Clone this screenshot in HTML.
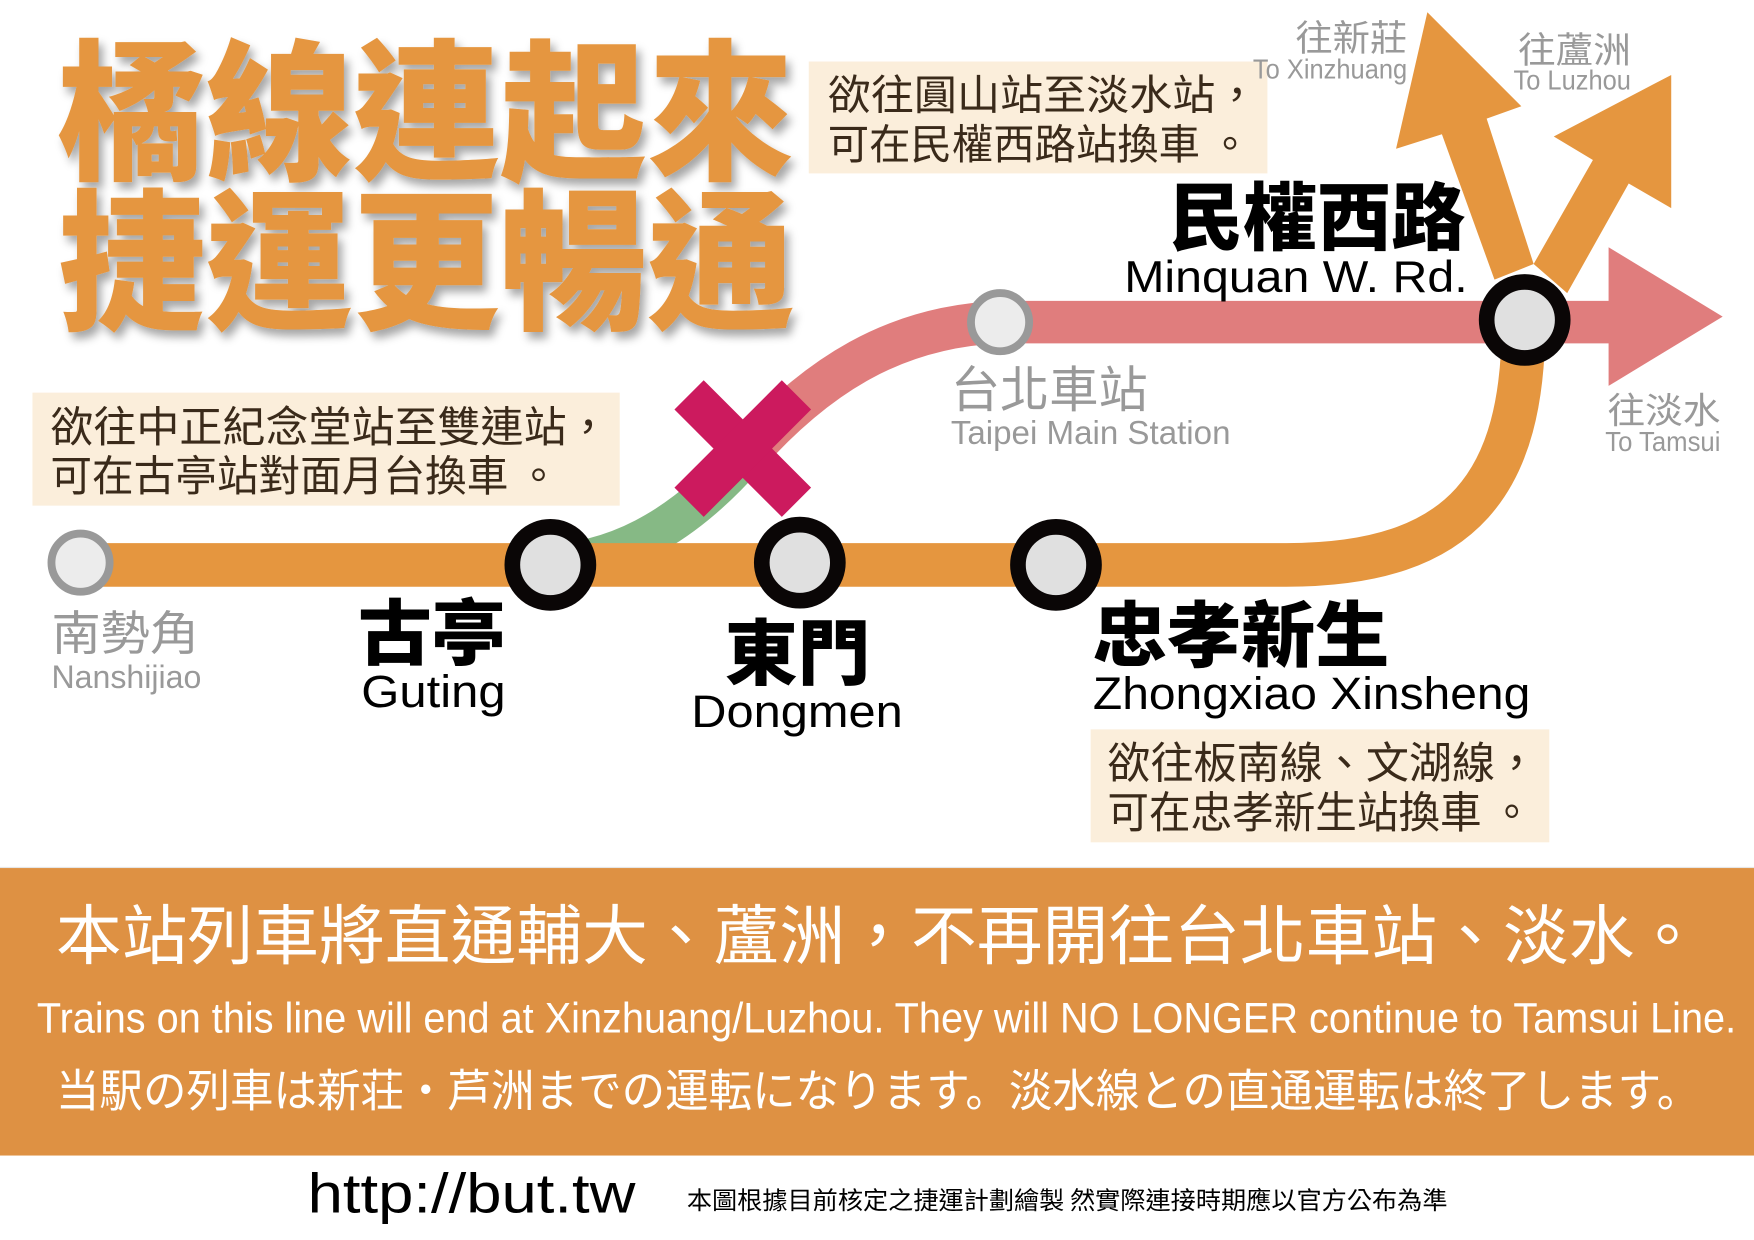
<!DOCTYPE html>
<html><head><meta charset="utf-8">
<style>
html,body{margin:0;padding:0;background:#fff;}
svg{display:block;}
text{font-family:"Liberation Sans","Noto Sans CJK TC",sans-serif;}
.cjk{font-family:"Noto Sans CJK TC","Liberation Sans",sans-serif;}
</style></head>
<body>
<svg width="1754" height="1240" viewBox="0 0 1568 1108.5" xmlns="http://www.w3.org/2000/svg">
<defs>
<filter id="sh" x="-10%" y="-10%" width="130%" height="130%">
<feDropShadow dx="4" dy="6" stdDeviation="4" flood-color="#000" flood-opacity="0.35"/>
</filter>
</defs>
<rect width="1568" height="1108.5" fill="#fff"/>

<!-- Title -->
<g filter="url(#sh)" fill="#e5963f" font-weight="900" class="cjk">
<text class="cjk" x="52" y="150" font-size="136" textLength="658" lengthAdjust="spacingAndGlyphs">橘線連起來</text>
<text class="cjk" x="52" y="284" font-size="136" textLength="658" lengthAdjust="spacingAndGlyphs">捷運更暢通</text>
</g>

<!-- info boxes -->
<rect x="723" y="55" width="410" height="100" fill="#fbeedb"/>
<g fill="#3a2a1a" font-size="37" class="cjk">
<text class="cjk" x="740" y="98" textLength="385" lengthAdjust="spacingAndGlyphs">欲往圓山站至淡水站，</text>
<text class="cjk" x="740" y="142" textLength="378" lengthAdjust="spacingAndGlyphs">可在民權西路站換車 。</text>
</g>
<rect x="29" y="351" width="525" height="101" fill="#fbeedb"/>
<g fill="#3a2a1a" font-size="38" class="cjk">
<text class="cjk" x="45" y="395" textLength="500" lengthAdjust="spacingAndGlyphs">欲往中正紀念堂站至雙連站，</text>
<text class="cjk" x="45" y="439" textLength="455" lengthAdjust="spacingAndGlyphs">可在古亭站對面月台換車 。</text>
</g>
<rect x="975" y="652" width="410" height="101" fill="#fbeedb"/>
<g fill="#3a2a1a" font-size="39" class="cjk">
<text class="cjk" x="990" y="696" textLength="385" lengthAdjust="spacingAndGlyphs">欲往板南線、文湖線，</text>
<text class="cjk" x="990" y="740" textLength="380" lengthAdjust="spacingAndGlyphs">可在忠孝新生站換車 。</text>
</g>

<!-- Red line and arrow -->
<path d="M664 410 C730 335 800 292 894 288 L1445 288" fill="none" stroke="#e07d7d" stroke-width="38"/>
<polygon points="1438,221 1540,283 1438,345" fill="#e07d7d"/>
<!-- Green -->
<path d="M480 505 C560 505 620 460 666 408" fill="none" stroke="#86b985" stroke-width="36"/>

<!-- Orange line -->
<path d="M72 505 L1150 505 C1310 505 1362 430 1362 287" fill="none" stroke="#e5963f" stroke-width="39"/>
<!-- Xinzhuang arrow shaft + head -->
<polygon points="1336,250 1289,120 1248,133 1276,11 1360,95 1329,106 1371,236" fill="#e5963f"/>
<!-- Luzhou arrow -->
<polygon points="1371,236 1424,143 1389,122 1494,67 1494,186 1456,164 1401,262" fill="#e5963f"/>

<!-- X -->
<g stroke="#cc1a5e" stroke-width="37">
<line x1="616" y1="353" x2="712" y2="449"/>
<line x1="712" y1="353" x2="616" y2="449"/>
</g>

<!-- Stations -->
<circle cx="72" cy="503" r="26" fill="#ececec" stroke="#999" stroke-width="7"/>
<circle cx="894" cy="288" r="26" fill="#ececec" stroke="#999" stroke-width="7"/>
<g fill="#e0e0e0" stroke="#0a0606" stroke-width="14">
<circle cx="492" cy="505" r="34"/>
<circle cx="715" cy="503" r="34"/>
<circle cx="944" cy="505" r="34"/>
<circle cx="1363" cy="286" r="34"/>
</g>

<!-- Station labels -->
<g fill="#999">
<text class="cjk" x="46" y="581" font-size="42" textLength="132" lengthAdjust="spacingAndGlyphs">南勢角</text>
<text x="46" y="615" font-size="29" textLength="134" lengthAdjust="spacingAndGlyphs">Nanshijiao</text>
<text class="cjk" x="850" y="364" font-size="44" textLength="176" lengthAdjust="spacingAndGlyphs">台北車站</text>
<text x="850" y="397" font-size="30" textLength="250" lengthAdjust="spacingAndGlyphs">Taipei Main Station</text>
<text class="cjk" x="1158" y="45" font-size="32" textLength="100" lengthAdjust="spacingAndGlyphs">往新莊</text>
<text x="1120" y="70" font-size="25" textLength="138" lengthAdjust="spacingAndGlyphs">To Xinzhuang</text>
<text class="cjk" x="1357" y="56" font-size="32" textLength="101" lengthAdjust="spacingAndGlyphs">往蘆洲</text>
<text x="1353" y="80" font-size="25" textLength="105" lengthAdjust="spacingAndGlyphs">To Luzhou</text>
<text class="cjk" x="1437" y="378" font-size="32" textLength="101" lengthAdjust="spacingAndGlyphs">往淡水</text>
<text x="1435" y="403" font-size="25" textLength="103" lengthAdjust="spacingAndGlyphs">To Tamsui</text>
</g>
<g fill="#000">
<text class="cjk" x="1045" y="218" font-size="66" font-weight="900" textLength="265" lengthAdjust="spacingAndGlyphs">民權西路</text>
<text x="1005" y="261" font-size="40" textLength="307" lengthAdjust="spacingAndGlyphs">Minquan W. Rd.</text>
<text class="cjk" x="320" y="589" font-size="64" font-weight="900" textLength="132" lengthAdjust="spacingAndGlyphs">古亭</text>
<text x="323" y="632" font-size="41" textLength="129" lengthAdjust="spacingAndGlyphs">Guting</text>
<text class="cjk" x="648" y="607" font-size="64" font-weight="900" textLength="130" lengthAdjust="spacingAndGlyphs">東門</text>
<text x="618" y="650" font-size="41" textLength="189" lengthAdjust="spacingAndGlyphs">Dongmen</text>
<text class="cjk" x="977" y="591" font-size="64" font-weight="900" textLength="265" lengthAdjust="spacingAndGlyphs">忠孝新生</text>
<text x="977" y="634" font-size="41" textLength="391" lengthAdjust="spacingAndGlyphs">Zhongxiao Xinsheng</text>
</g>

<!-- Banner -->
<rect x="0" y="776" width="1568" height="257" fill="#de9143"/>
<line x1="0" y1="775.5" x2="1568" y2="775.5" stroke="#e6e6e6" stroke-width="1"/>
<g fill="#fff">
<text class="cjk" x="50" y="857" font-size="58" textLength="1470" lengthAdjust="spacingAndGlyphs">本站列車將直通輔大、蘆洲，不再開往台北車站、淡水。</text>
<text x="33" y="923" font-size="38" textLength="1519" lengthAdjust="spacingAndGlyphs">Trains on this line will end at Xinzhuang/Luzhou. They will NO LONGER continue to Tamsui Line.</text>
<text x="50" y="989" font-size="40" textLength="1470" lengthAdjust="spacingAndGlyphs" style="font-family:'Liberation Sans','Noto Sans CJK JP',sans-serif">当駅の列車は新荘・芦洲までの運転になります。淡水線との直通運転は終了します。</text>
</g>

<!-- Footer -->
<text x="275" y="1084" font-size="50" fill="#000" textLength="293" lengthAdjust="spacingAndGlyphs">http://but.tw</text>
<text class="cjk" x="614" y="1081" font-size="22" fill="#000" textLength="680" lengthAdjust="spacingAndGlyphs">本圖根據目前核定之捷運計劃繪製 然實際連接時期應以官方公布為準</text>
</svg>
</body></html>
